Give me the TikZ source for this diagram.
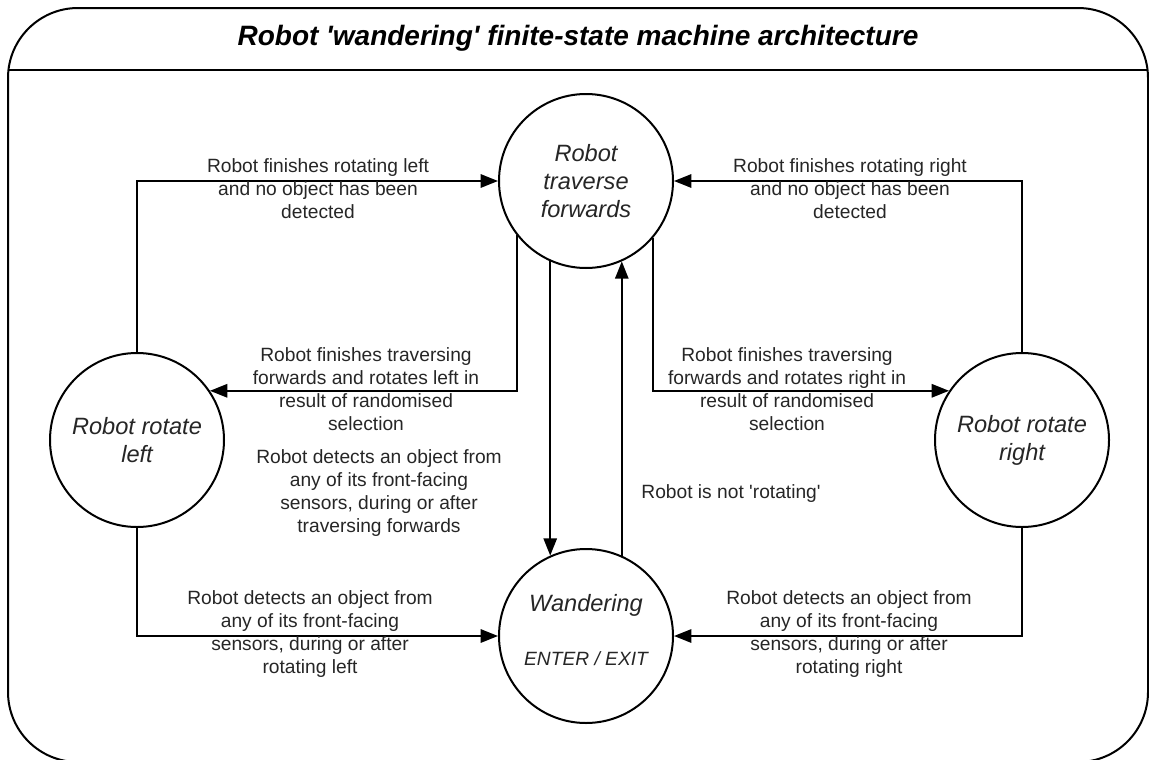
\documentclass[tikz,border=0pt]{standalone}
\usepackage{fontspec}
\setmainfont{Liberation Sans}
\usetikzlibrary{arrows.meta}
\begin{document}
\begin{tikzpicture}[x=0.75pt,y=-0.75pt,
  state/.style={draw, circle, line width=1.5pt, minimum size=130.5pt, inner sep=0pt,
    align=center, font=\fontsize{17.7}{21}\selectfont\itshape, text=black!85},
  trans/.style={line width=1.5pt, -{Triangle[length=13pt,width=10pt]}},
  lbl/.style={align=center, font=\fontsize{14.4}{17.3}\selectfont, text=black!85, inner sep=0pt}]

\useasboundingbox (0,0) rectangle (1149,760);

% outer frame with title band
\draw[line width=1.5pt, rounded corners=52.5pt] (8,8) rectangle (1148,762);
\draw[line width=1.5pt] (8,70) -- (1148,70);
\node[font=\fontsize{21}{24}\selectfont\bfseries\itshape] (title) at (578,38)
  {Robot \textquotesingle wandering\textquotesingle\ finite-state machine architecture};

% states
\node[state] (fwd) at (586,181) {Robot\\traverse\\forwards};
\node[state] (rl) at (137,440) {Robot rotate\\left};
\node[state] (rr) at (1022,440) {Robot rotate\\right};
\node[state] (wand) at (586,636) {Wandering\\[19.5pt]{\fontsize{14.4}{17.3}\selectfont ENTER / EXIT\rule[-9pt]{0pt}{9pt}}};

% transitions
\draw[trans] (rl.north) |- (fwd.west);
\draw[trans] (rr.north) |- (fwd.east);
\draw[trans] (fwd.218.5) |- (rl.34);
\draw[trans] (fwd.320.5) |- (rr.146);
\draw[trans] (fwd.246) -- (wand.114);
\draw[trans] (wand.66) -- (fwd.294);
\draw[trans] (rl.south) |- (wand.west);
\draw[trans] (rr.south) |- (wand.east);

% transition labels
\node[lbl] (l1) at (318,189) {Robot finishes rotating left\\and no object has been\\detected};
\node[lbl] (l2) at (850,189) {Robot finishes rotating right\\and no object has been\\detected};
\node[lbl] (l3) at (366,389) {Robot finishes traversing\\forwards and rotates left in\\result of randomised\\selection};
\node[lbl] (l4) at (787,389) {Robot finishes traversing\\forwards and rotates right in\\result of randomised\\selection};
\node[lbl] (l5) at (379,493) {Robot detects an object from\\any of its front-facing\\sensors, during or after\\traversing forwards};
\node[lbl] (l6) at (731,494) {Robot is not \textquotesingle rotating\textquotesingle};
\node[lbl] (l7) at (310,634) {Robot detects an object from\\any of its front-facing\\sensors, during or after\\rotating left};
\node[lbl] (l8) at (849,634) {Robot detects an object from\\any of its front-facing\\sensors, during or after\\rotating right};
\end{tikzpicture}
\end{document}
